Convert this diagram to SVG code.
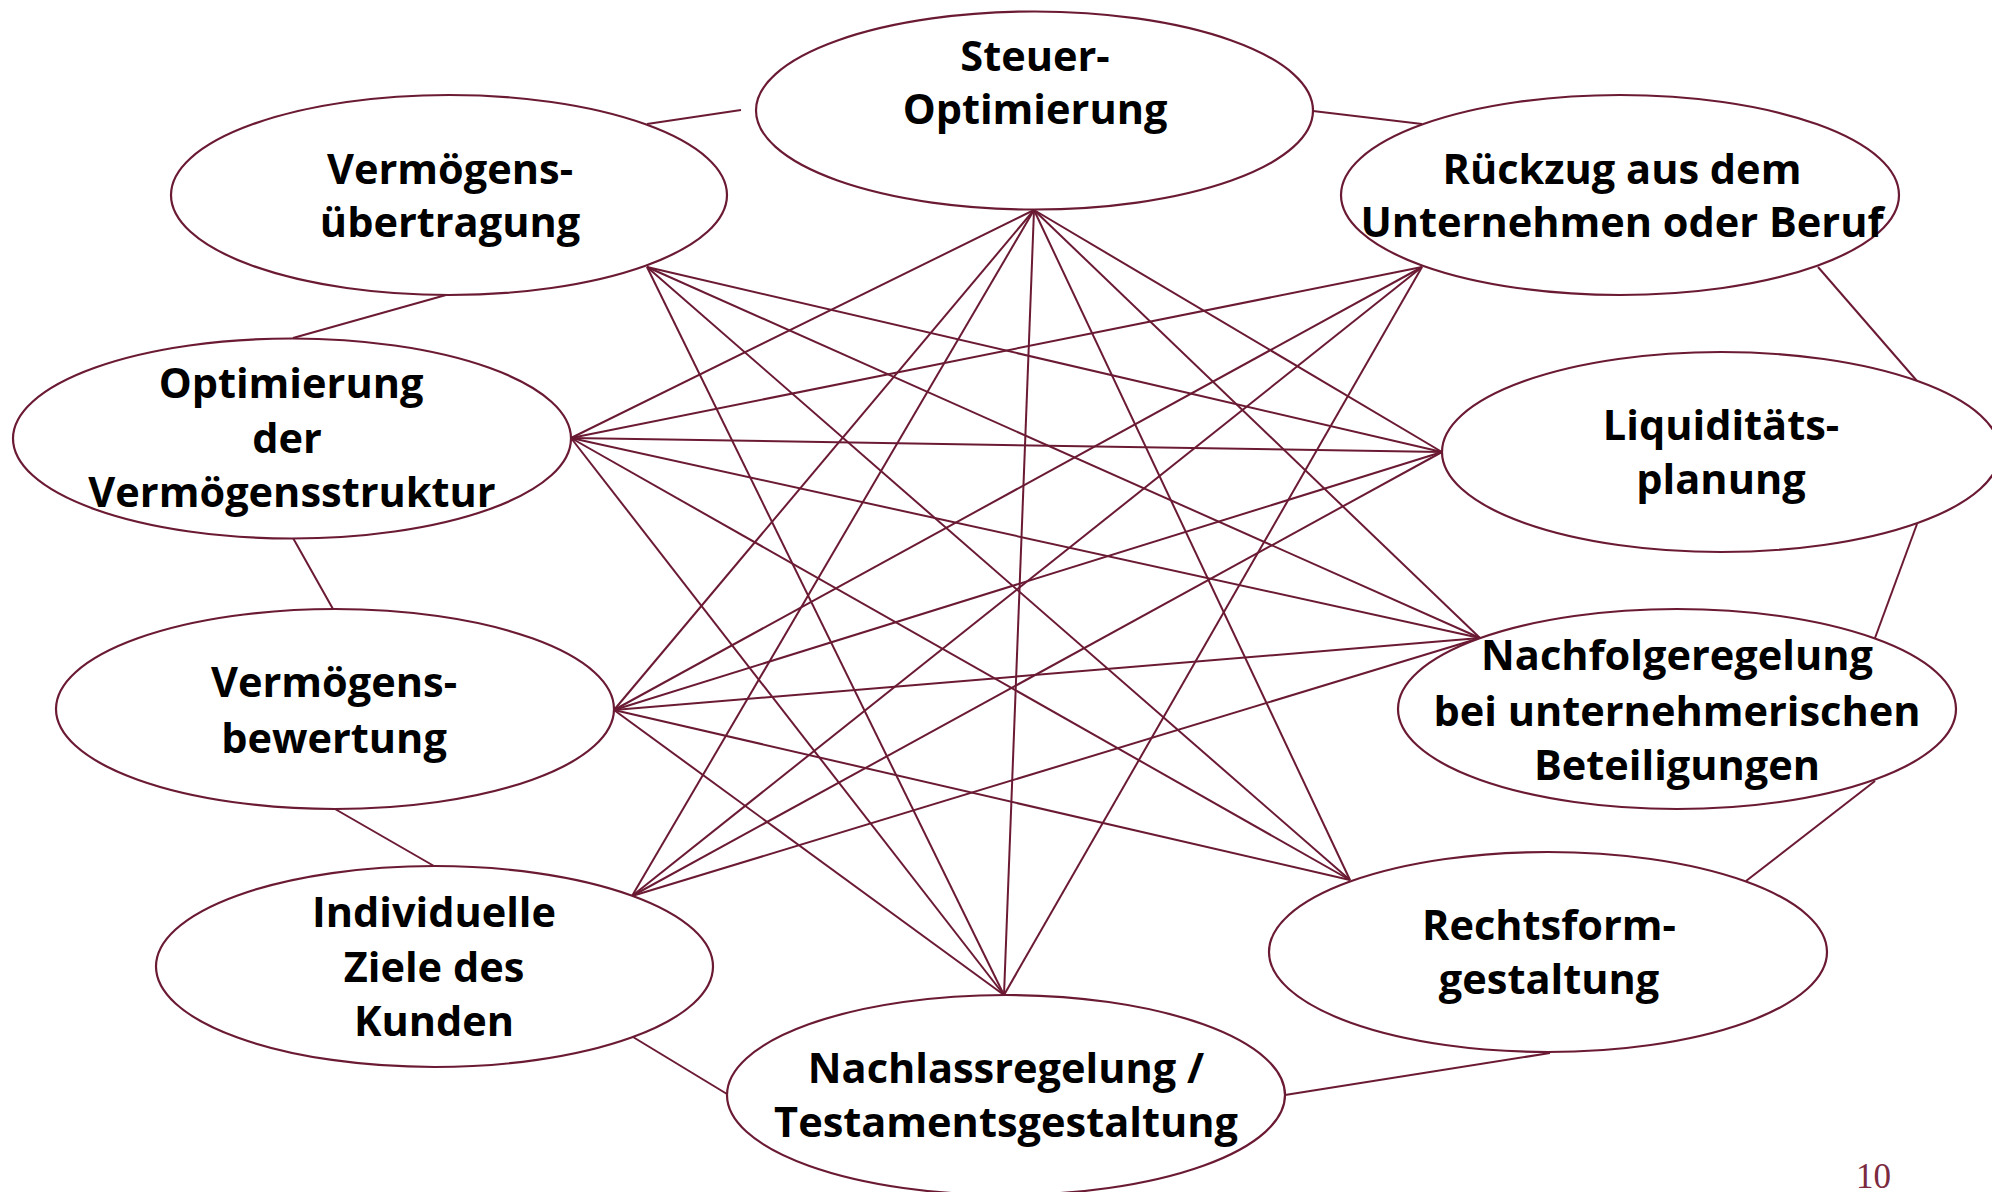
<svg xmlns="http://www.w3.org/2000/svg" width="1992" height="1192" viewBox="0 0 1992 1192">
<style>
.n ellipse{fill:#fff;stroke:#6b1a33;stroke-width:2.2}
.c line{stroke:#6b1a33;stroke-width:2}
.n text{font-family:"Open Sans","Noto Sans","Liberation Sans",sans-serif;font-weight:700;font-size:41.5px;fill:#000;text-anchor:middle}
.pg{font-family:"Liberation Serif","DejaVu Serif",serif;font-size:35px;fill:#7b2a3f}
</style>
<rect width="1992" height="1192" fill="#fff"/>
<g id="connectors" class="c">
<!-- ring -->
<line x1="647" y1="124" x2="741" y2="110"/>
<line x1="1313" y1="111" x2="1422" y2="124"/>
<line x1="446" y1="295" x2="293" y2="338"/>
<line x1="293" y1="538" x2="333" y2="609"/>
<line x1="335" y1="809" x2="434" y2="866"/>
<line x1="633" y1="1037" x2="727" y2="1094"/>
<line x1="1285" y1="1095" x2="1550" y2="1053"/>
<line x1="1746" y1="881" x2="1875" y2="781"/>
<line x1="1917" y1="524" x2="1875" y2="638"/>
<line x1="1818" y1="267" x2="1917" y2="381"/>
<!-- Steuer -->
<line x1="1034" y1="210" x2="571" y2="438"/>
<line x1="1034" y1="210" x2="614" y2="710"/>
<line x1="1034" y1="210" x2="632" y2="896"/>
<line x1="1034" y1="210" x2="1004" y2="995"/>
<line x1="1034" y1="210" x2="1350" y2="880"/>
<line x1="1034" y1="210" x2="1480" y2="638"/>
<line x1="1034" y1="210" x2="1442" y2="452"/>
<!-- Vermögensübertragung -->
<line x1="647" y1="267" x2="1442" y2="452"/>
<line x1="647" y1="267" x2="1480" y2="638"/>
<line x1="647" y1="267" x2="1350" y2="880"/>
<line x1="647" y1="267" x2="1004" y2="995"/>
<!-- Optimierung -->
<line x1="571" y1="438" x2="1422" y2="267"/>
<line x1="571" y1="438" x2="1442" y2="452"/>
<line x1="571" y1="438" x2="1480" y2="638"/>
<line x1="571" y1="438" x2="1350" y2="880"/>
<line x1="571" y1="438" x2="1004" y2="995"/>
<!-- Bewertung -->
<line x1="614" y1="710" x2="1422" y2="267"/>
<line x1="614" y1="710" x2="1442" y2="452"/>
<line x1="614" y1="710" x2="1480" y2="638"/>
<line x1="614" y1="710" x2="1350" y2="880"/>
<line x1="614" y1="710" x2="1004" y2="995"/>
<!-- Individuelle -->
<line x1="632" y1="896" x2="1422" y2="267"/>
<line x1="632" y1="896" x2="1442" y2="452"/>
<line x1="632" y1="896" x2="1480" y2="638"/>
<!-- Nachlass -->
<line x1="1004" y1="995" x2="1422" y2="267"/>
</g>
<g id="steuer" class="n">
<ellipse cx="1034.5" cy="110.5" rx="278.5" ry="99"/>
<text x="1035" y="71">Steuer-</text>
<text x="1035" y="124">Optimierung</text>
</g>
<g id="vermoegensuebertragung" class="n">
<ellipse cx="449" cy="195" rx="278" ry="100"/>
<text x="450" y="184">Vermögens-</text>
<text x="450" y="237">übertragung</text>
</g>
<g id="optimierung" class="n">
<ellipse cx="292" cy="438.5" rx="279" ry="100"/>
<text x="291" y="398">Optimierung</text>
<text x="287" y="453">der</text>
<text x="292" y="507">Vermögensstruktur</text>
</g>
<g id="bewertung" class="n">
<ellipse cx="335" cy="709" rx="279" ry="100"/>
<text x="334" y="697">Vermögens-</text>
<text x="334" y="753">bewertung</text>
</g>
<g id="ziele" class="n">
<ellipse cx="434.5" cy="966.5" rx="278.5" ry="100.5"/>
<text x="434" y="927">Individuelle</text>
<text x="434" y="982">Ziele des</text>
<text x="434" y="1036">Kunden</text>
</g>
<g id="nachlass" class="n">
<ellipse cx="1006" cy="1095" rx="279" ry="100"/>
<text x="1006" y="1083">Nachlassregelung /</text>
<text x="1006" y="1137">Testamentsgestaltung</text>
</g>
<g id="rechtsform" class="n">
<ellipse cx="1548" cy="952" rx="279" ry="100"/>
<text x="1549" y="940">Rechtsform-</text>
<text x="1549" y="994">gestaltung</text>
</g>
<g id="nachfolge" class="n">
<ellipse cx="1677" cy="709" rx="279" ry="100"/>
<text x="1677" y="670">Nachfolgeregelung</text>
<text x="1677" y="726">bei unternehmerischen</text>
<text x="1677" y="780">Beteiligungen</text>
</g>
<g id="liquiditaet" class="n">
<ellipse cx="1721" cy="452" rx="279" ry="100"/>
<text x="1721" y="440">Liquiditäts-</text>
<text x="1721" y="494">planung</text>
</g>
<g id="rueckzug" class="n">
<ellipse cx="1620" cy="195" rx="279" ry="100"/>
<text x="1622" y="184">Rückzug aus dem</text>
<text x="1622" y="237">Unternehmen oder Beruf</text>
</g>
<text class="pg" x="1856" y="1188">10</text>
</svg>
